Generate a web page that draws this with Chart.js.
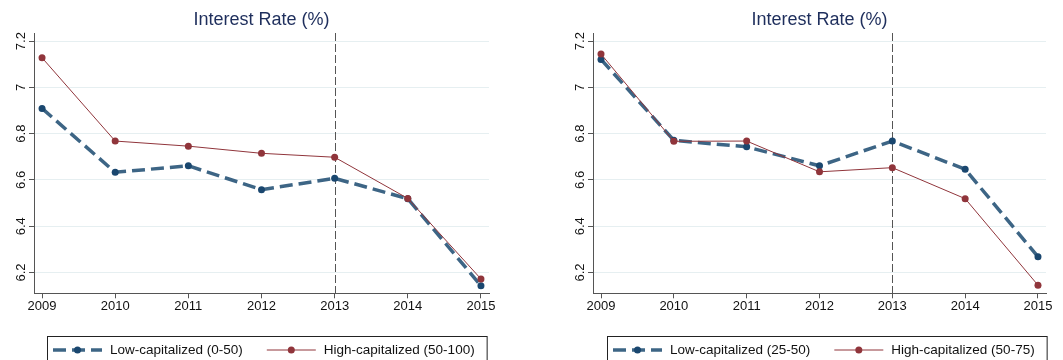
<!DOCTYPE html>
<html lang="en">
<head>
    <meta charset="UTF-8">
    <title>Interest Rate (%)</title>
    <script src="https://cdn.jsdelivr.net/npm/chart.js"></script>
    <style>
        body { margin: 0; background: #fff; }
        .panel { position: absolute; top: 0; }
    </style>
</head>
<body>
    <div class="panel" style="left:0"><canvas id="leftChart" width="531" height="360"></canvas></div>
    <div class="panel" style="left:531px"><canvas id="rightChart" width="532" height="360"></canvas></div>

    <script>
        // Data
        const years = [2009, 2010, 2011, 2012, 2013, 2014, 2015];
        const yTicks = [6.2, 6.4, 6.6, 6.8, 7.0, 7.2];
        const yTickLabels = ['6.2', '6.4', '6.6', '6.8', '7', '7.2'];
        const markerYear = 2013;
        const chartTitle = 'Interest Rate (%)';

        const leftLowLabel = 'Low-capitalized (0-50)';
        const leftHighLabel = 'High-capitalized (50-100)';
        const leftLow = [6.909, 6.633, 6.661, 6.558, 6.607, 6.519, 6.143];
        const leftHigh = [7.128, 6.768, 6.746, 6.715, 6.698, 6.520, 6.172];

        const rightLowLabel = 'Low-capitalized (25-50)';
        const rightHighLabel = 'High-capitalized (50-75)';
        const rightLow = [7.121, 6.771, 6.743, 6.661, 6.768, 6.646, 6.268];
        const rightHigh = [7.144, 6.767, 6.768, 6.635, 6.653, 6.519, 6.145];

        const FONT = '"Liberation Sans", Arial, sans-serif';
        const navy = '#1a476f';
        const steel = '#3d6585';
        const maroon = '#90353b';

        Chart.defaults.font.family = FONT;

        // title, rotated y labels, 2013 marker and boxed legend
        const decorations = {
            id: 'decorations',
            beforeDatasetsDraw(chart) {
                const ctx = chart.ctx, area = chart.chartArea;
                const x = chart.scales.x.getPixelForValue(markerYear);
                ctx.save();
                ctx.strokeStyle = '#555';
                ctx.lineWidth = 1;
                ctx.setLineDash([8, 3]);
                ctx.beginPath();
                ctx.moveTo(Math.round(x) + 0.5, area.top);
                ctx.lineTo(Math.round(x) + 0.5, area.bottom);
                ctx.stroke();
                ctx.restore();
            },
            afterDraw(chart, args, opts) {
                const ctx = chart.ctx, area = chart.chartArea;
                const y = chart.scales.y;
                ctx.save();

                // title
                ctx.fillStyle = '#1e2e5c';
                ctx.font = '18px ' + FONT;
                ctx.textAlign = 'center';
                ctx.textBaseline = 'middle';
                ctx.fillText(chartTitle, (area.left + area.right) / 2, 20);

                // y tick labels, rotated
                ctx.fillStyle = '#111';
                ctx.font = '13px ' + FONT;
                yTicks.forEach((v, i) => {
                    ctx.save();
                    ctx.translate(area.left - 13, y.getPixelForValue(v));
                    ctx.rotate(-Math.PI / 2);
                    ctx.fillText(yTickLabels[i], 0, 0);
                    ctx.restore();
                });

                // legend
                ctx.font = '13.5px ' + FONT;
                ctx.textAlign = 'left';
                const top = 336, cy = 350, sample = 49;
                let cx = opts.legendX + 6;
                const positions = [];
                chart.data.datasets.forEach(ds => {
                    positions.push(cx);
                    cx += sample + 8 + ctx.measureText(ds.label).width + 24;
                });
                const boxRight = cx - 24 + 12;
                ctx.strokeStyle = '#222';
                ctx.lineWidth = 1;
                ctx.strokeRect(opts.legendX + 0.5, top + 0.5, boxRight - opts.legendX, 40);

                chart.data.datasets.forEach((ds, i) => {
                    const sx = positions[i];
                    ctx.strokeStyle = ds.borderColor;
                    ctx.lineWidth = ds.borderWidth;
                    ctx.setLineDash(ds.borderDash || []);
                    ctx.beginPath();
                    ctx.moveTo(sx, cy);
                    ctx.lineTo(sx + sample, cy);
                    ctx.stroke();
                    ctx.setLineDash([]);
                    ctx.fillStyle = ds.pointBackgroundColor;
                    ctx.beginPath();
                    ctx.arc(sx + sample / 2, cy, ds.pointRadius, 0, Math.PI * 2);
                    ctx.fill();
                    ctx.fillStyle = '#111';
                    ctx.fillText(ds.label, sx + sample + 8, cy);
                });
                ctx.restore();
            }
        };

        function makeChart(id, lowLabel, low, highLabel, high, axisWidth, rightPad, legendX) {
            const ctx = document.getElementById(id).getContext('2d');
            return new Chart(ctx, {
                type: 'line',
                data: {
                    datasets: [{
                        label: lowLabel,
                        data: years.map((yr, i) => ({ x: yr, y: low[i] })),
                        borderColor: steel,
                        borderWidth: 3.5,
                        borderDash: [13, 6],
                        pointRadius: 3.5,
                        pointBackgroundColor: navy,
                        pointBorderWidth: 0,
                        tension: 0,
                        order: 1
                    }, {
                        label: highLabel,
                        data: years.map((yr, i) => ({ x: yr, y: high[i] })),
                        borderColor: maroon,
                        borderWidth: 1,
                        pointRadius: 3.5,
                        pointBackgroundColor: maroon,
                        pointBorderWidth: 0,
                        tension: 0,
                        order: 0
                    }]
                },
                options: {
                    responsive: false,
                    animation: false,
                    devicePixelRatio: 1,
                    layout: { padding: { top: 33, right: rightPad, bottom: 0, left: 0 } },
                    plugins: {
                        legend: { display: false },
                        title: { display: false },
                        tooltip: { enabled: false },
                        decorations: { legendX: legendX }
                    },
                    scales: {
                        x: {
                            type: 'linear',
                            min: 2008.89,
                            max: 2015.11,
                            afterBuildTicks: s => { s.ticks = years.map(v => ({ value: v })); },
                            afterFit: s => { s.height = 66.7; },
                            ticks: {
                                color: '#111',
                                font: { size: 13 },
                                padding: 0,
                                maxRotation: 0,
                                callback: v => String(v)
                            },
                            grid: { drawOnChartArea: false, drawTicks: true, tickLength: 5, tickColor: '#555' },
                            border: { color: '#555', width: 1 }
                        },
                        y: {
                            min: 6.11,
                            max: 7.235,
                            afterBuildTicks: s => { s.ticks = yTicks.map(v => ({ value: v })); },
                            afterFit: s => { s.width = axisWidth; },
                            ticks: { display: false },
                            grid: { color: '#e6eff1', lineWidth: 1, drawTicks: true, tickLength: 5, tickColor: '#555' },
                            border: { color: '#555', width: 1 }
                        }
                    }
                },
                plugins: [decorations]
            });
        }

        makeChart('leftChart', leftLowLabel, leftLow, leftHighLabel, leftHigh, 34, 42, 47);
        makeChart('rightChart', rightLowLabel, rightLow, rightHighLabel, rightHigh, 62, 17, 76);
    </script>
</body>
</html>
